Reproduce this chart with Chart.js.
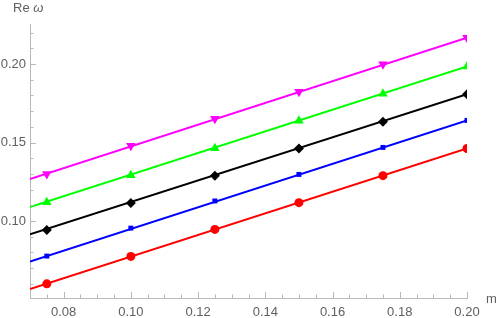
<!DOCTYPE html>
<html>
<head>
<meta charset="utf-8">
<script src="https://cdn.jsdelivr.net/npm/chart.js@4"></script>
<style>
  html, body { margin: 0; padding: 0; background: #fff; }
  #wrap { width: 498px; height: 318px; }
</style>
</head>
<body>
<div id="wrap"><canvas id="chart" width="498" height="318"></canvas></div>
<script>
// --- DATA ---
const markerM = [0.075, 0.1, 0.125, 0.15, 0.175, 0.2];
const fitM = [0.07, 0.2];

const redVals     = [0.0600, 0.0775, 0.0947, 0.1117, 0.1289, 0.1462];
const blueVals    = [0.0777, 0.0955, 0.1128, 0.1297, 0.1469, 0.1641];
const blackVals   = [0.0943, 0.1115, 0.1289, 0.1462, 0.1633, 0.1808];
const greenVals   = [0.1120, 0.1292, 0.1464, 0.1639, 0.1810, 0.1985];
const magentaVals = [0.1300, 0.1480, 0.1652, 0.1824, 0.1998, 0.2168];

const redFit     = [0.0567, 0.1462];
const blueFit    = [0.0742, 0.1641];
const blackFit   = [0.0915, 0.1808];
const greenFit   = [0.1090, 0.1985];
const magentaFit = [0.1267, 0.2168];

const xTickLabels = [0.08, 0.10, 0.12, 0.14, 0.16, 0.18, 0.20];
const yTickLabels = [0.10, 0.15, 0.20];
const xMinorStep = 0.005;
const yMinorStep = 0.01;

const AXIS_GRAY = '#b8b8b8';
const TEXT_GRAY = '#606060';
const FONT = 'Liberation Sans, Arial, sans-serif';

// --- DATASETS ---
function pairs(xs, ys) { return xs.map((x, i) => ({ x: x, y: ys[i] })); }

function series(color, vals, fit, style, size, rot) {
  return [
    { type: 'line', data: pairs(fitM, fit), borderColor: color, borderWidth: 2,
      pointRadius: 0, order: 2 },
    { type: 'scatter', data: pairs(markerM, vals), backgroundColor: color, borderColor: color,
      pointStyle: style, pointRadius: size, pointRotation: rot || 0, borderWidth: 0, order: 1 }
  ];
}

const datasets = [].concat(
  series('#ff0000', redVals, redFit, 'circle', 4.5),
  series('#0000ff', blueVals, blueFit, 'rect', 3.5),
  series('#000000', blackVals, blackFit, 'rectRot', 5),
  series('#00ff00', greenVals, greenFit, 'triangle', 5.5),
  series('#ff00ff', magentaVals, magentaFit, 'triangle', 5.5, 180)
);

// --- INWARD TICKS + AXIS LABELS ---
const frameTicks = {
  id: 'frameTicks',
  afterDraw(chart) {
    const ctx = chart.ctx, xs = chart.scales.x, ys = chart.scales.y;
    const area = chart.chartArea;
    ctx.save();
    ctx.strokeStyle = AXIS_GRAY;
    ctx.lineWidth = 1;
    ctx.beginPath();
    for (let v = xs.min; v <= xs.max + 1e-9; v += xMinorStep) {
      const px = Math.round(xs.getPixelForValue(v)) + 0.5;
      const major = xTickLabels.some(t => Math.abs(t - v) < 1e-6);
      ctx.moveTo(px, area.bottom);
      ctx.lineTo(px, area.bottom - (major ? 6 : 3.5));
    }
    for (let v = Math.ceil(ys.min / yMinorStep) * yMinorStep; v <= ys.max + 1e-9; v += yMinorStep) {
      const py = Math.round(ys.getPixelForValue(v)) + 0.5;
      const major = yTickLabels.some(t => Math.abs(t - v) < 1e-6);
      ctx.moveTo(area.left, py);
      ctx.lineTo(area.left + (major ? 6 : 3.5), py);
    }
    ctx.stroke();

    ctx.fillStyle = TEXT_GRAY;
    ctx.font = '13px ' + FONT;
    ctx.textBaseline = 'middle';
    ctx.textAlign = 'left';
    ctx.fillText('Re ', 13, 8);
    const w = ctx.measureText('Re ').width;
    ctx.font = 'italic 13px ' + FONT;
    ctx.fillText('\u03C9', 13 + w, 8);
    ctx.font = '13px ' + FONT;
    ctx.fillText('m', 486, 299);
    ctx.restore();
  }
};

new Chart(document.getElementById('chart'), {
  data: { datasets: datasets },
  options: {
    responsive: false,
    animation: false,
    layout: { padding: { top: 24, right: 31, left: 0, bottom: 0 } },
    plugins: { legend: { display: false }, tooltip: { enabled: false } },
    scales: {
      x: {
        type: 'linear', min: 0.07, max: 0.2,
        afterFit(s) { s.height = 20; },
        afterBuildTicks(s) { s.ticks = xTickLabels.map(v => ({ value: v })); },
        grid: { display: false, drawTicks: false, tickLength: 0 },
        border: { display: true, color: AXIS_GRAY, width: 1 },
        ticks: { color: TEXT_GRAY, font: { family: FONT, size: 13 }, padding: 7,
                 maxRotation: 0, autoSkip: false,
                 callback: v => v.toFixed(2) }
      },
      y: {
        type: 'linear', min: 0.051, max: 0.2255,
        afterFit(s) { s.width = 30; },
        afterBuildTicks(s) { s.ticks = yTickLabels.map(v => ({ value: v })); },
        grid: { display: false, drawTicks: false, tickLength: 0 },
        border: { display: true, color: AXIS_GRAY, width: 1 },
        ticks: { color: TEXT_GRAY, font: { family: FONT, size: 13 }, padding: 4,
                 callback: v => v.toFixed(2) }
      }
    }
  },
  plugins: [frameTicks]
});
</script>
</body>
</html>
